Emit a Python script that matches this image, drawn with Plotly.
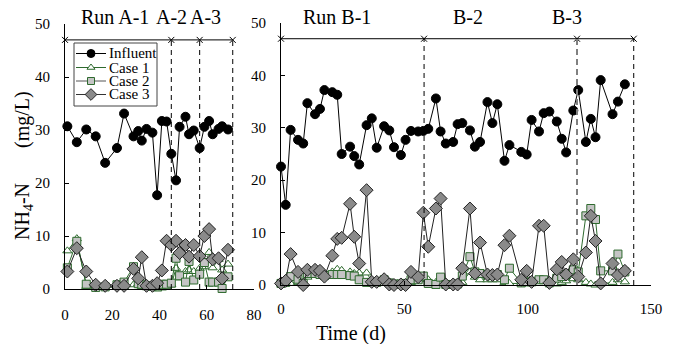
import plotly.graph_objects as go

# ---------------- data ----------------
A_days = [1, 5, 9, 13, 17, 22, 25, 29, 31, 32.5, 34.5, 37, 39, 41, 43, 45, 47, 48.5,
          51, 52.5, 54.5, 57, 59, 61, 62.5, 65, 66.5, 69]
A_influent = [30.7, 27.7, 30.1, 28.8, 23.8, 26.6, 33.1, 28.8, 29.8, 28.0, 30.2, 29.5, 17.7, 31.7,
              31.6, 25.5, 20.5, 30.6, 32.5, 29.2, 29.9, 26.6, 30.6, 31.7, 29.2, 30.2, 30.7, 30.1]
A_case1 = [7.2, 9.5, 0.5, 0.3, 0.3, 0.3, 0.4, 0.8, 1.0, 0.5, 0.4, 0.3, 0.0, 0.2,
           0.4, 0.8, 3.9, 2.1, 3.3, 3.6, 3.3, 3.9, 4.2, 6.9, 4.0, 5.6, 3.6, 4.7]
A_case2 = [4.0, 9.0, 0.9, 0.3, 0.4, 0.8, 1.3, 4.2, 1.0, 0.9, 0.6, 0.5, 0.8, 0.9,
           0.9, 1.1, 5.8, 2.5, 1.3, 5.2, 1.7, 2.8, 5.0, 1.3, 1.3, 1.3, 0.1, 2.3]
A_case3 = [3.3, 7.7, 3.3, 0.8, 0.6, 0.6, 0.6, 3.8, 2.0, 6.0, 0.6, 0.6, 1.1, 3.5,
           9.1, 8.3, 9.1, 6.8, 8.3, 6.1, 8.3, 6.2, 10.0, 11.3, 5.6, 5.8, 2.0, 7.4]

B_days = [0, 1.9, 3.9, 6.9, 9, 10.7, 13.8, 15.8, 17.6, 20.8, 22.8, 24.6, 28, 29.7, 31.7,
          34.7, 36.8, 38.8, 41.8, 43.9, 45.8, 48.6, 50.5, 52.7, 55.6, 57.7, 59.7, 62.8,
          64.7, 66.8, 69.8, 71.6, 73.5, 76.6, 78.6, 80.7, 83.7, 85.7, 87.7, 90.6, 92.6,
          97.4, 99.6, 101.6, 104.6, 106.5, 108.8, 111.8, 113.8, 115.6, 118.5, 120.5,
          123.6, 125.6, 127.5, 129.6, 134.4, 136.6, 139.4]
B_influent = [22.6, 15.3, 29.6, 27.7, 27.0, 34.7, 32.6, 33.6, 37.2, 36.8, 36.3, 25.0, 26.4,
              24.6, 23.0, 30.5, 31.8, 26.2, 30.3, 29.5, 26.3, 24.8, 27.7, 29.4, 29.3, 29.4,
              29.8, 35.6, 29.3, 27.0, 27.3, 30.7, 30.9, 29.5, 26.4, 27.3, 34.9, 30.9, 34.5,
              23.7, 26.7, 25.4, 24.9, 31.5, 29.3, 32.8, 33.1, 31.2, 27.9, 25.3, 33.3, 37.2,
              27.3, 31.7, 28.2, 39.1, 32.6, 35.0, 38.3]
B_case1 = [0.2, 0.3, 0.3, 0.5, 0.3, 1.5, 2.0, 2.0, 2.2, 2.5, 3.0, 2.8, 2.5, 2.2, 2.3, 2.3,
           0.8, 0.8, 0.8, 0.3, 0.3, 0.2, 0.3, 0.5, 1.0, 1.6, 1.0, 0.5, 0.3, 0.3, 0.2, 0.2,
           0.5, 2.5, 1.5, 1.0, 1.0, 1.0, 1.0, 0.5, 0.3, 0.3, 0.3, 0.5, 0.8, 1.0, 0.5, 0.2,
           0.5, 0.8, 1.2, 1.0, 0.5, 0.2, 0.0, 0.2, 0.5, 1.0, 0.6]
B_case2 = [0.3, 0.5, 1.6, 1.1, 0.3, 2.2, 2.2, 2.0, 1.8, 2.0, 2.0, 2.0, 1.8, 1.7, 1.0, 0.5,
           0.5, 0.5, 1.0, 0.4, 0.2, 0.2, 0.3, 1.0, 1.0, 1.7, 0.3, 0.1, 1.5, 0.1, 0.1, 0.2,
           1.7, 5.4, 2.5, 2.2, 2.0, 2.0, 2.0, 1.0, 3.2, 0.4, 0.6, 0.6, 1.0, 1.0, 0.4, 1.3,
           1.6, 2.0, 2.9, 2.5, 13.2, 14.6, 12.5, 2.7, 2.7, 5.9, 2.5]
B_case3 = [0.3, 0.8, 5.9, 2.5, 0.0, 2.9, 2.9, 2.7, 1.6, 5.6, 8.8, 9.0, 15.5, 9.2, 4.1, 18.1,
           0.6, 0.6, 1.1, 0.1, 0.0, 0.1, 0.0, 2.5, 1.5, 13.8, 7.3, 14.6, 16.5, 0.1, 0.1, 0.1,
           3.2, 14.6, 2.2, 8.1, 2.0, 1.9, 2.0, 7.6, 9.4, 1.0, 2.7, 0.6, 11.3, 11.3, 0.4, 3.0,
           4.4, 2.0, 4.9, 1.6, 6.2, 13.2, 8.4, 0.3, 4.1, 1.9, 2.7]

# run period boundaries (days) and labels
A_bounds = [0, 45, 57, 71]
B_bounds = [0, 58, 120, 143]
bound_level = 47
A_labels = ["Run A-1", "A-2", "A-3"]
A_label_x = [21.2, 44.9, 59.5]
B_labels = ["Run B-1", "B-2", "B-3"]
B_label_x = [22.5, 75.8, 116]

series_names = ["Influent", "Case 1", "Case 2", "Case 3"]

# ---------------- styling / layout ----------------
W, H = 675, 344
FONT = "Liberation Serif, Times New Roman, serif"
GREEN = "#2e6a2e"
CLEAR = "rgba(0,0,0,0)"

styles = {
    "Influent": dict(marker=dict(symbol="circle", size=9, color="black",
                                 line=dict(color="black", width=1)),
                     line=dict(color="black", width=1)),
    "Case 1": dict(marker=dict(symbol="triangle-up", size=8, color="white",
                               line=dict(color=GREEN, width=1)),
                   line=dict(color=GREEN, width=1)),
    "Case 2": dict(marker=dict(symbol="square", size=8, color="#c4c4c4",
                               line=dict(color=GREEN, width=1)),
                   line=dict(color=GREEN, width=1)),
    "Case 3": dict(marker=dict(symbol="diamond", size=10, color="#8a8a8a",
                               line=dict(color="#222222", width=1)),
                   line=dict(color="#222222", width=1)),
}
legend_line_colors = {"Influent": "black", "Case 1": GREEN, "Case 2": "#555555",
                      "Case 3": "#333333"}

# legend box geometry (pixels)
LEG_BOX = (74, 43, 157, 106)
LEG_ROWS = [53.5, 67.5, 81, 94.5]
LEG_X0, LEG_XM, LEG_X1, LEG_TX = 76, 91, 106, 107

fig = go.Figure()

A_series = [A_influent, A_case1, A_case2, A_case3]
B_series = [B_influent, B_case1, B_case2, B_case3]

for name, ya in zip(series_names, A_series):
    fig.add_trace(go.Scatter(x=A_days, y=ya, name=name, mode="lines+markers",
                             xaxis="x", yaxis="y", showlegend=False,
                             cliponaxis=False, **styles[name]))
for name, yb in zip(series_names, B_series):
    fig.add_trace(go.Scatter(x=B_days, y=yb, name=name, mode="lines+markers",
                             xaxis="x2", yaxis="y2", showlegend=False,
                             cliponaxis=False, **styles[name]))

# period bars at the top
for bounds, xa, ya in [(A_bounds, "x", "y"), (B_bounds, "x2", "y2")]:
    fig.add_trace(go.Scatter(x=bounds, y=[bound_level] * len(bounds), mode="lines+markers",
                             xaxis=xa, yaxis=ya, showlegend=False, hoverinfo="skip",
                             cliponaxis=False,
                             line=dict(color="black", width=1),
                             marker=dict(symbol="x-thin-open", size=6,
                                         line=dict(color="black", width=1))))

# legend glyphs on a pixel-space overlay axis
for name, ry in zip(series_names, LEG_ROWS):
    st = styles[name]
    mk = dict(st["marker"])
    mk["opacity"] = [0, 1, 0]
    mk["size"] = mk["size"] - 1
    fig.add_trace(go.Scatter(x=[LEG_X0, LEG_XM, LEG_X1], y=[ry, ry, ry],
                             mode="lines+markers", xaxis="x3", yaxis="y3",
                             showlegend=False, hoverinfo="skip", cliponaxis=False,
                             marker=mk,
                             line=dict(color=legend_line_colors[name], width=1)))

shapes = []
for b in A_bounds[1:]:
    shapes.append(dict(type="line", xref="x", yref="y", x0=b, x1=b, y0=0, y1=bound_level,
                       line=dict(color="black", width=1, dash="5px,4px")))
for i, b in enumerate(B_bounds[1:]):
    if i == 1:
        ln = dict(color="#808080", width=2, dash="6px,4px")
    else:
        ln = dict(color="black", width=1, dash="5px,4px")
    shapes.append(dict(type="line", xref="x2", yref="y2", x0=b, x1=b, y0=0, y1=bound_level,
                       line=ln))
# legend frame
shapes.append(dict(type="rect", xref="paper", yref="paper",
                   x0=LEG_BOX[0] / W, x1=LEG_BOX[2] / W,
                   y0=1 - LEG_BOX[3] / H, y1=1 - LEG_BOX[1] / H,
                   line=dict(color="#444444", width=1), fillcolor="white", layer="below"))

annotations = []
for t, xv in zip(A_labels, A_label_x):
    annotations.append(dict(text=t, x=xv, xref="x", y=(H - 17) / H, yref="paper",
                            showarrow=False, xanchor="center", yanchor="middle",
                            font=dict(family=FONT, size=20, color="black")))
for t, xv in zip(B_labels, B_label_x):
    annotations.append(dict(text=t, x=xv, xref="x2", y=(H - 17) / H, yref="paper",
                            showarrow=False, xanchor="center", yanchor="middle",
                            font=dict(family=FONT, size=20, color="black")))
annotations.append(dict(text="NH<sub>4</sub>-N", x=23 / W, y=(H - 212) / H,
                        xref="paper", yref="paper", showarrow=False, textangle=-90,
                        xanchor="center", yanchor="middle",
                        font=dict(family=FONT, size=20, color="black")))
annotations.append(dict(text="(mg/L)", x=23 / W, y=(H - 120) / H,
                        xref="paper", yref="paper", showarrow=False, textangle=-90,
                        xanchor="center", yanchor="middle",
                        font=dict(family=FONT, size=20, color="black")))
annotations.append(dict(text="Time (d)", x=351 / W, y=(H - 333) / H,
                        xref="paper", yref="paper", showarrow=False,
                        xanchor="center", yanchor="middle",
                        font=dict(family=FONT, size=20, color="black")))
for name, ry in zip(series_names, LEG_ROWS):
    annotations.append(dict(text=name, x=LEG_TX / W, y=1 - ry / H, xref="paper",
                            yref="paper", showarrow=False, xanchor="left",
                            yanchor="middle", font=dict(family=FONT, size=15, color="black")))

axis_common = dict(showline=True, linecolor="black", linewidth=1, ticks="inside",
                   ticklen=4, tickcolor="black", showgrid=False, zeroline=False,
                   tickfont=dict(family=FONT, size=15, color="black"), mirror=False,
                   automargin=False)

fig.update_layout(
    width=W, height=H,
    margin=dict(l=0, r=0, t=0, b=0, pad=0, autoexpand=False),
    paper_bgcolor="white", plot_bgcolor=CLEAR,
    shapes=shapes, annotations=annotations,
    xaxis=dict(domain=[65 / W, 254 / W], range=[0, 80], dtick=20, anchor="y",
               ticklabelstandoff=12, **axis_common),
    yaxis=dict(domain=[(H - 289) / H, (H - 24) / H], range=[0, 50], dtick=10,
               anchor="x", ticklabelstandoff=11, **axis_common),
    xaxis2=dict(domain=[281 / W, 651 / W], range=[0, 150], dtick=50, anchor="y2",
                ticklabelstandoff=10, **axis_common),
    yaxis2=dict(domain=[(H - 285) / H, (H - 23) / H], range=[0, 50], dtick=10,
                anchor="x2", ticklabelstandoff=11, **axis_common),
    xaxis3=dict(domain=[0, 1], range=[0, W], visible=False, anchor="y3", automargin=False),
    yaxis3=dict(domain=[0, 1], range=[H, 0], visible=False, anchor="x3", automargin=False),
    showlegend=False,
)

fig.write_html("out.html")
